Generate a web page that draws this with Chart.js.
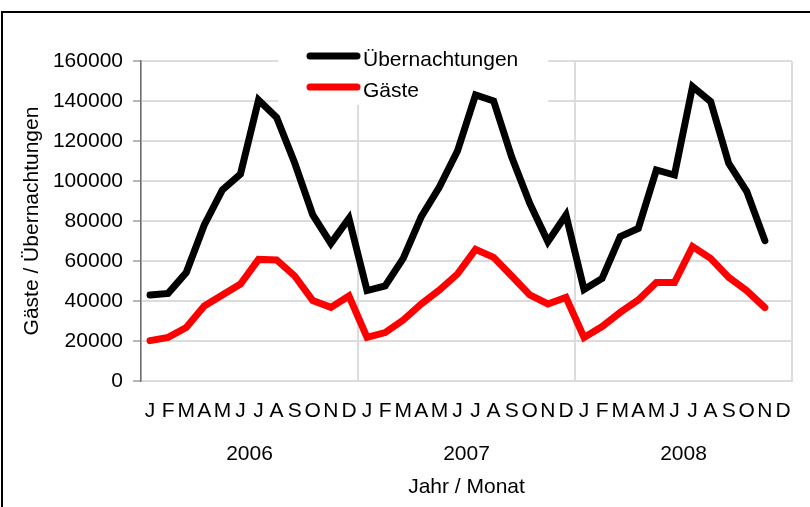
<!DOCTYPE html>
<html>
<head>
<meta charset="utf-8">
<script src="https://cdn.jsdelivr.net/npm/chart.js@4/dist/chart.umd.min.js"></script>
<style>
  html, body { margin: 0; padding: 0; background: #fff; }
  canvas { display: block; }
</style>
</head>
<body>
<canvas id="c" width="810" height="507"></canvas>
<script>
const monthLabels = ['J','F','M','A','M','J','J','A','S','O','N','D',
                     'J','F','M','A','M','J','J','A','S','O','N','D',
                     'J','F','M','A','M','J','J','A','S','O','N','D'];
const yearLabels = ['2006', '2007', '2008'];
const uebernachtungen = [
  43000, 43800, 54200, 78000, 95500, 103500, 140500, 131800, 109000, 83000, 68800, 81300,
  45200, 47500, 61300, 82200, 97000, 115000, 143000, 140000, 112000, 88800, 69700, 83000,
  45800, 51300, 72200, 76300, 105500, 103000, 147200, 139700, 108800, 94700, 70200, null
];
const gaeste = [
  20200, 21800, 26700, 37500, 43000, 48500, 60800, 60500, 52500, 40200, 36800, 42500,
  21800, 24200, 30500, 38500, 45500, 53500, 65800, 61800, 52500, 43000, 38500, 41800,
  21800, 27200, 34300, 40500, 49200, 49200, 67200, 61300, 51800, 45200, 36700, null
];
const seriesNames = ['Übernachtungen', 'Gäste'];
const yTitle = 'Gäste / Übernachtungen';
const xTitle = 'Jahr / Monat';

const FONT = 'Liberation Sans, Arial, sans-serif';
const FS = 21;
const GRID = '#dcdcdc';
const AXIS = '#6e6e6e';

const legendPlugin = {
  id: 'customLegend',
  beforeDatasetsDraw(chart) {
    const ctx = chart.ctx;
    ctx.save();
    ctx.fillStyle = '#fff';
    ctx.fillRect(278, 40, 270, 65);
    const rows = [{y: 56, base: 66}, {y: 87, base: 97}];
    chart.data.datasets.forEach((ds, i) => {
      const r = rows[i];
      ctx.strokeStyle = ds.borderColor;
      ctx.lineWidth = 7;
      ctx.lineCap = 'round';
      ctx.beginPath();
      ctx.moveTo(310, r.y);
      ctx.lineTo(357, r.y);
      ctx.stroke();
      ctx.fillStyle = '#000';
      ctx.font = FS + 'px ' + FONT;
      ctx.textBaseline = 'alphabetic';
      ctx.textAlign = 'left';
      ctx.fillText(ds.label, 363, r.base);
    });
    ctx.restore();
  }
};

const framePlugin = {
  id: 'frame',
  afterDraw(chart) {
    const ctx = chart.ctx;
    ctx.save();
    ctx.fillStyle = '#000';
    ctx.fillRect(1, 11, 809, 2);
    ctx.fillRect(1, 11, 2, 496);
    ctx.restore();
  }
};

new Chart(document.getElementById('c'), {
  type: 'line',
  data: {
    labels: monthLabels,
    datasets: [
      {
        label: seriesNames[0],
        data: uebernachtungen,
        borderColor: '#000000',
        backgroundColor: '#000000',
        borderWidth: 7,
        borderCapStyle: 'round',
        pointRadius: 0,
        tension: 0
      },
      {
        label: seriesNames[1],
        data: gaeste,
        borderColor: '#ff0000',
        backgroundColor: '#ff0000',
        borderWidth: 7,
        borderCapStyle: 'round',
        pointRadius: 0,
        tension: 0
      }
    ]
  },
  options: {
    responsive: false,
    animation: false,
    devicePixelRatio: 1,
    layout: { padding: { top: 61, right: 18, bottom: 0, left: 0 } },
    plugins: {
      legend: { display: false },
      tooltip: { enabled: false }
    },
    scales: {
      x: {
        type: 'category',
        offset: true,
        weight: 0,
        grid: {
          offset: true,
          drawTicks: false,
          lineWidth: 2,
          color: (c) => (c.index === undefined || c.index % 12 === 0) ? GRID : 'rgba(0,0,0,0)'
        },
        border: { color: GRID, width: 2 },
        ticks: {
          autoSkip: false,
          maxRotation: 0,
          minRotation: 0,
          padding: 18,
          color: '#000',
          font: { family: FONT, size: FS }
        },
        afterFit(s) { s.height = 52; }
      },
      x2: {
        type: 'category',
        labels: yearLabels,
        position: 'bottom',
        offset: true,
        weight: 1,
        grid: { display: false, drawTicks: false },
        border: { display: false },
        ticks: {
          autoSkip: false,
          maxRotation: 0,
          padding: 9,
          color: '#000',
          font: { family: FONT, size: FS }
        },
        title: {
          display: true,
          text: xTitle,
          color: '#000',
          font: { family: FONT, size: FS },
          padding: { top: 0, bottom: 7 }
        },
        afterFit(s) { s.height = 74; }
      },
      y: {
        min: 0,
        max: 160000,
        ticks: {
          stepSize: 20000,
          padding: 10,
          color: '#000',
          font: { family: FONT, size: FS },
          callback: (v) => String(v)
        },
        grid: {
          color: GRID,
          lineWidth: 2,
          tickColor: AXIS,
          tickLength: 8,
          tickWidth: 1
        },
        border: { color: AXIS, width: 1.5 },
        title: {
          display: true,
          text: yTitle,
          color: '#000',
          font: { family: FONT, size: FS },
          padding: { top: 20, bottom: 0 }
        },
        afterFit(s) { s.width = 141; }
      }
    }
  },
  plugins: [legendPlugin, framePlugin]
});
</script>
</body>
</html>
